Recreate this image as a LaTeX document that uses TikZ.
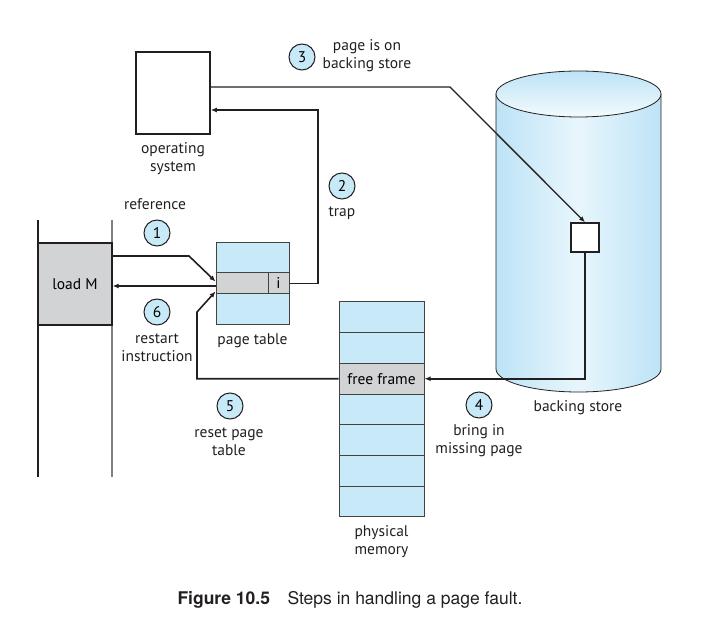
\documentclass[tikz,border=0pt]{standalone}
\usepackage{fontspec}
\setmainfont{PT Sans}
\newfontfamily\capfont{TeX Gyre Heros}
\usetikzlibrary{arrows.meta,positioning,calc}
\definecolor{pgblue}{HTML}{C7E9F8}
\definecolor{pggray}{HTML}{D1D3D4}
\definecolor{pgline}{HTML}{231F20}
\definecolor{diskedge}{HTML}{BDE3F6}
\definecolor{diskmid}{HTML}{E8F6FC}

\begin{document}
\begin{tikzpicture}[x=1pt,y=-1pt,
  font=\fontsize{15.5}{18}\selectfont,
  box/.style={draw=pgline,line width=1.5pt,minimum width=74pt,minimum height=82pt,inner sep=0pt},
  cell/.style={draw=pgline!85,line width=1pt,fill=pgblue,inner sep=0pt},
  stepnum/.style={circle,draw=pgline,line width=1pt,fill=pgblue,minimum size=26pt,inner sep=0pt},
  lbl/.style={align=center,inner sep=0pt,text=pgline},
  arrow/.style={-{Latex[length=6pt,width=5pt]},line width=1.6pt,draw=pgline}]
\useasboundingbox (0,0) rectangle (702,620);

% process with the faulting instruction
\draw[pgline,line width=1.2pt] (38,220) -- (38,477);
\draw[gray,line width=1.2pt] (112,220) -- (112,477);
\node[box,fill=pggray,line width=1.2pt] (loadm) at (75,284) {load M};

% operating system
\node[box] (os) at (173,93) {};
\node[lbl,below=8pt of os] (oslbl) {operating\\system};

% page table
\node[cell,minimum width=73pt,minimum height=82pt] (ptab) at (252.5,284) {};
\node[cell,fill=pggray,minimum width=52pt,minimum height=21pt] (ptent) at (242,283.5) {};
\node[cell,fill=pggray,minimum width=21pt,minimum height=21pt] (ptbit) at (278.5,283.5) {i};
\node[lbl,below=8pt of ptab] (ptlbl) {page table};

% physical memory
\foreach \i in {0,1,3,4,5,6}
  \node[cell,minimum width=85pt,minimum height=30.7pt] (fr\i) at (381.5,{317.35+30.7*\i}) {};
\node[cell,fill=pggray,minimum width=85pt,minimum height=30.7pt] (fr2) at (381.5,378.75) {free frame};
\node[lbl,below=8pt of fr6] (memlbl) {physical\\memory};

% backing store
\shade[left color=diskedge,right color=diskedge,middle color=diskmid]
  (496,94) -- (496,369) arc[start angle=180,end angle=0,x radius=82.5,y radius=23]
  -- (661,94) arc[start angle=0,end angle=180,x radius=82.5,y radius=23] -- cycle;
\draw[pgline,line width=0.8pt]
  (496,94) -- (496,369) arc[start angle=180,end angle=0,x radius=82.5,y radius=23]
  -- (661,94);
\shade[top color=diskedge,bottom color=diskmid!50!white] (578.5,94) ellipse[x radius=82.5,y radius=23];
\draw[pgline,line width=0.8pt] (578.5,94) ellipse[x radius=82.5,y radius=23];
\node[draw=pgline,line width=1.5pt,fill=white,minimum width=28pt,minimum height=29pt,inner sep=0pt] (blk) at (585,237.5) {};
\node[lbl] (disklbl) at (578,408) {backing store};

% numbered steps
\foreach \n/\x/\y in {1/157/233,2/342/186,3/302/57,4/479/405,5/230/406,6/157/312}
  \node[stepnum] (s\n) at (\x,\y) {\n};
\node[lbl] (t1) at (155,204) {reference};
\node[lbl] (t2) at (342,213) {trap};
\node[lbl] (t3) at (367,56) {page is on\\backing store};
\node[lbl] (t4) at (479,441) {bring in\\missing page};
\node[lbl] (t5) at (229,442) {reset page\\table};
\node[lbl] (t6) at (157,348) {restart\\instruction};

% connectors
\coordinate (b1) at (189,256);
\coordinate (b2) at (318,110);
\coordinate (b3) at (450,87);
\coordinate (b5) at (197,312);
\draw[arrow] (loadm.east |- b1) -- (b1) -- ([yshift=2pt]ptent.west);
\draw[arrow] (ptbit.east) -| (b2) -- (b2 -| os.east);
\draw[arrow,line width=1.3pt] (b3 -| os.east) -- (b3) -- (blk.north);
\draw[arrow] (blk.south) |- (fr2.east);
\draw[arrow] (fr2.west) -| (b5) -- ([yshift=3pt]ptent.south west);
\draw[arrow] ($(ptent.west)+(0,2.5)$) -- ($(ptent.west -| loadm.east)+(0,2.5)$);

\node[font=\capfont\fontsize{17.5}{20}\selectfont,text=pgline] (cap) at (350,600)
  {\textbf{Figure 10.5}\hspace{1em}Steps in handling a page fault.};
\end{tikzpicture}
\end{document}
